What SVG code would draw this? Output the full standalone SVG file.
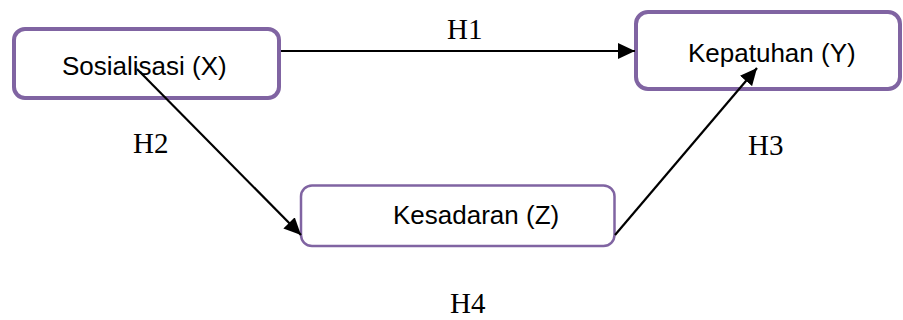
<svg xmlns="http://www.w3.org/2000/svg" width="903" height="320" viewBox="0 0 903 320">
  <style>
    .box { fill: #ffffff; stroke: #8064A2; }
    .thick { stroke-width: 4; }
    .thin { stroke-width: 2.5; }
    .label { font-family: "Liberation Sans", Arial, sans-serif; font-size: 26px; fill: #000000; }
    .hyp { font-family: "Liberation Serif", "Times New Roman", serif; font-size: 29px; fill: #000000; }
    .link { stroke: #000000; stroke-width: 2.2; fill: none; marker-end: url(#arrow); }
  </style>
  <defs>
    <marker id="arrow" markerUnits="userSpaceOnUse" markerWidth="18" markerHeight="16" refX="17" refY="8" orient="auto">
      <path d="M0,0 L17,8 L0,16 Z" fill="#000000"/>
    </marker>
  </defs>

  <rect width="903" height="320" fill="#ffffff"/>

  <g id="node-sosialisasi">
    <rect class="box thick" x="14" y="29" width="265" height="69" rx="11"/>
    <text class="label" x="62" y="75">Sosialisasi (X)</text>
  </g>

  <g id="node-kepatuhan">
    <rect class="box thick" x="636" y="12" width="264" height="77" rx="12"/>
    <text class="label" x="688" y="62">Kepatuhan (Y)</text>
  </g>

  <g id="node-kesadaran">
    <rect class="box thin" x="301" y="185.5" width="313.5" height="60.5" rx="11"/>
    <text class="label" x="393" y="224">Kesadaran (Z)</text>
  </g>

  <g id="connectors">
    <line class="link" x1="281" y1="51" x2="635" y2="51"/>
    <line class="link" x1="137" y1="69" x2="301" y2="235"/>
    <line class="link" x1="615" y1="235" x2="757" y2="68"/>
  </g>

  <g id="hypothesis-labels">
    <text class="hyp" x="447" y="39">H1</text>
    <text class="hyp" x="133" y="153">H2</text>
    <text class="hyp" x="748" y="155">H3</text>
    <text class="hyp" x="450" y="313">H4</text>
  </g>
</svg>
